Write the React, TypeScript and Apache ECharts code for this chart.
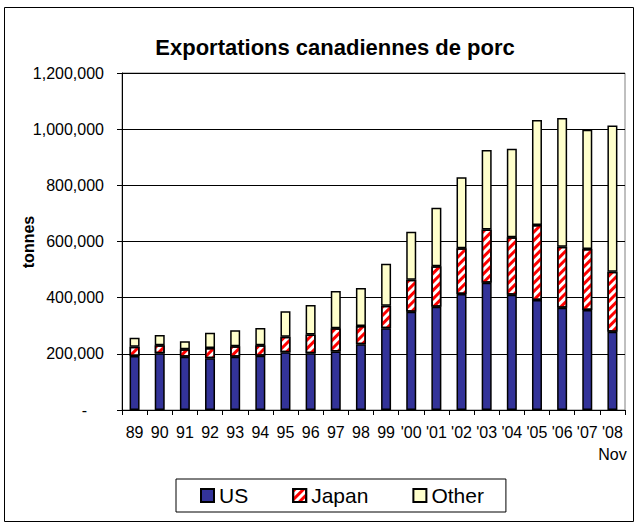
import React, { useEffect, useRef } from "react";
import * as echarts from "echarts";

const categories = ["89", "90", "91", "92", "93", "94", "95", "96", "97", "98", "99", "'00", "'01", "'02", "'03", "'04", "'05", "'06", "'07", "'08"];
const usValues = [192000, 202000, 190000, 184000, 190000, 193000, 206000, 202000, 208000, 234000, 291000, 350000, 368000, 413000, 453000, 410000, 392000, 364000, 356000, 279000];
const japanValues = [33000, 29000, 26000, 37000, 37000, 38000, 55000, 67000, 83000, 65000, 80000, 114000, 144000, 163000, 190000, 205000, 267000, 217000, 217000, 213000];
const otherValues = [32000, 36000, 29000, 54000, 57000, 61000, 91000, 105000, 133000, 135000, 150000, 171000, 208000, 253000, 283000, 315000, 374000, 459000, 425000, 521000];

const FONT = "'Liberation Sans', Arial, sans-serif";

export default function App() {
  const ref = useRef<HTMLDivElement>(null);
  useEffect(() => {
    document.body.style.margin = "0";
    const chart = echarts.init(ref.current!, null, { renderer: "svg" });
    const barStyle = { borderColor: "#000", borderWidth: 1.5 };
    chart.setOption({
      animation: false,
      backgroundColor: "#fff",
      textStyle: { fontFamily: FONT, color: "#000" },
      graphic: [
        {
          type: "rect",
          shape: { x: 4.5, y: 7.5, width: 629, height: 514 },
          style: { fill: "none", stroke: "#000", lineWidth: 1 },
          silent: true,
        },
        {
          type: "text",
          x: 335,
          y: 47,
          style: {
            text: "Exportations canadiennes de porc",
            font: "bold 22px " + FONT,
            fill: "#000",
            textAlign: "center",
            textVerticalAlign: "middle",
          },
        },
        {
          type: "text",
          x: 28,
          y: 242,
          rotation: Math.PI / 2,
          style: {
            text: "tonnes",
            font: "bold 16px " + FONT,
            fill: "#000",
            textAlign: "center",
            textVerticalAlign: "middle",
          },
        },
      ],
      grid: {
        left: 122,
        right: 15,
        top: 73,
        bottom: 117,
        show: true,
        borderColor: "#808080",
        borderWidth: 1,
        containLabel: false,
      },
      legend: {
        left: 176,
        top: 479,
        orient: "horizontal",
        icon: "rect",
        borderColor: "#000",
        borderWidth: 1,
        padding: [6, 22, 6, 24],
        itemWidth: 13,
        itemHeight: 13,
        itemGap: 44,
        textStyle: { fontSize: 21, fontFamily: FONT, color: "#000" },
        data: ["US", "Japan", "Other"],
      },
      xAxis: {
        type: "category",
        data: categories,
        axisLine: { lineStyle: { color: "#000", width: 1 } },
        axisTick: { show: true, length: 5, lineStyle: { color: "#000" } },
        axisLabel: {
          color: "#000",
          fontSize: 16,
          fontFamily: FONT,
          margin: 11,
          lineHeight: 22,
          interval: 0,
          formatter: (v: string, i: number) => (i === categories.length - 1 ? v + "\nNov" : v),
        },
      },
      yAxis: {
        type: "value",
        min: 0,
        max: 1200000,
        interval: 200000,
        axisLine: { show: true, lineStyle: { color: "#000", width: 1 } },
        axisTick: { show: true, length: 5, lineStyle: { color: "#000" } },
        splitLine: { show: true, lineStyle: { color: "#000", width: 1 } },
        axisLabel: {
          color: "#000",
          fontSize: 16,
          fontFamily: FONT,
          margin: 18,
          formatter: (v: number) => (v === 0 ? "{z|-}" : v.toLocaleString("en-US")),
          rich: { z: { fontSize: 16, fontFamily: FONT, color: "#000", padding: [0, 17, 0, 0] } },
        },
      },
      series: [
        {
          name: "US",
          type: "bar",
          stack: "t",
          barWidth: 10,
          data: usValues,
          itemStyle: { color: "#333399", ...barStyle },
        },
        {
          name: "Japan",
          type: "bar",
          stack: "t",
          barWidth: 10,
          data: japanValues,
          itemStyle: {
            color: "#ffffff",
            ...barStyle,
            decal: {
              symbol: "rect",
              symbolSize: 1,
              symbolKeepAspect: false,
              color: "#ff0000",
              dashArrayX: [1, 0],
              dashArrayY: [2.5, 2.5],
              rotation: -Math.PI / 4,
            },
          },
        },
        {
          name: "Other",
          type: "bar",
          stack: "t",
          barWidth: 10,
          data: otherValues,
          itemStyle: { color: "#ffffcc", ...barStyle },
        },
      ],
    });
    return () => chart.dispose();
  }, []);
  return <div ref={ref} style={{ width: 640, height: 527 }} />;
}
